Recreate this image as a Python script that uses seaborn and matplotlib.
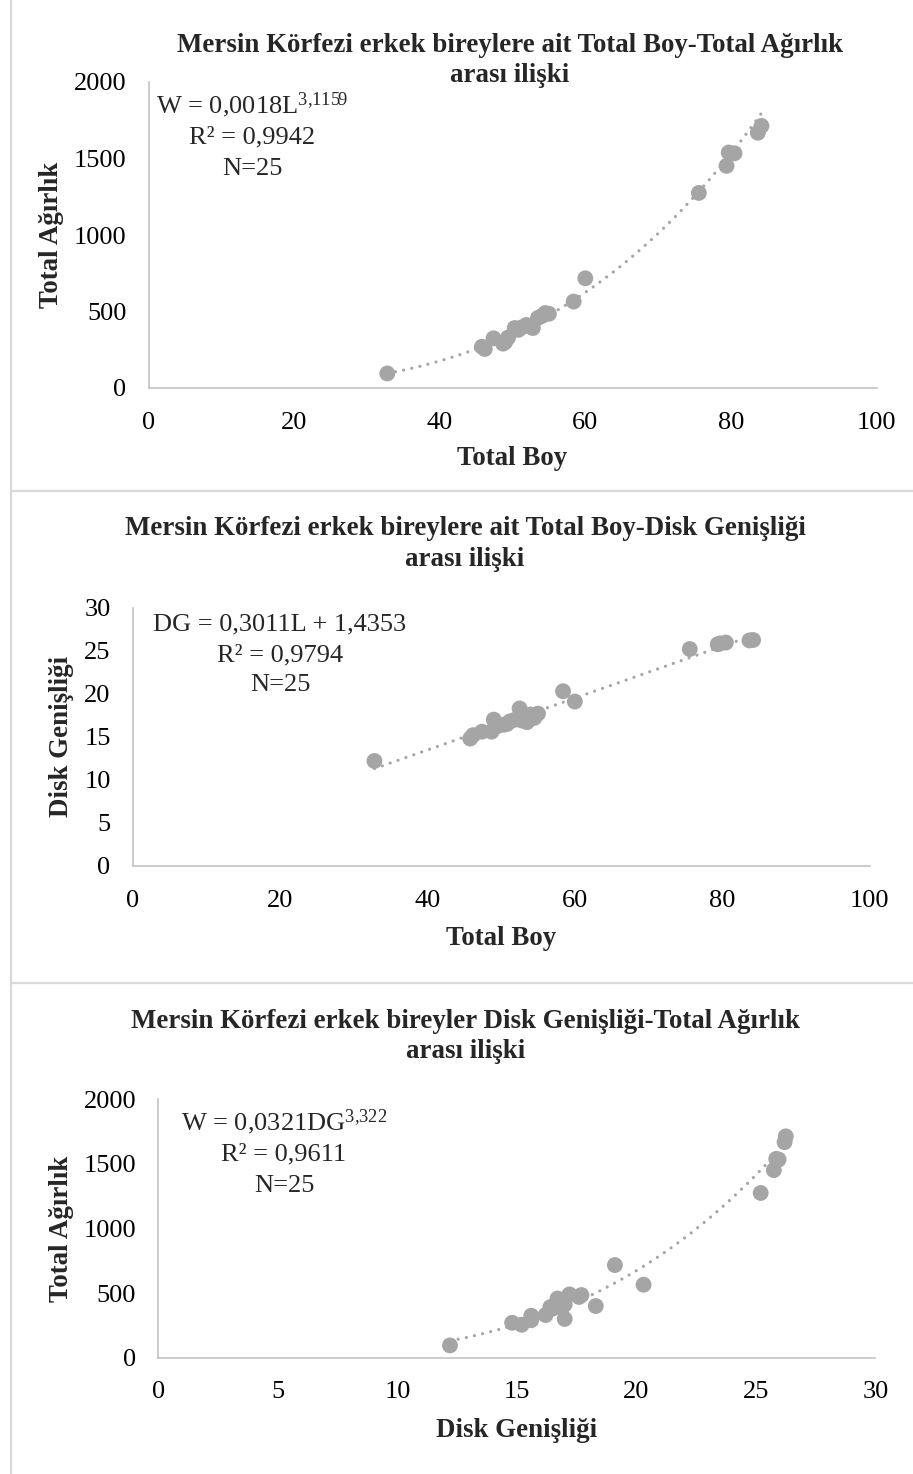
import numpy as np
import matplotlib
matplotlib.use('Agg')
import matplotlib.pyplot as plt
from matplotlib.lines import Line2D
import seaborn as sns

# Veri (25 erkek birey)
total_boy = [32.8, 45.8, 46.2, 47.4, 48.7, 49.0, 49.4, 50.3, 50.8, 51.2, 51.9, 52.5, 52.8,
             53.5, 54.0, 54.5, 55.0, 58.4, 60.0, 75.6, 79.4, 79.7, 80.5, 83.7, 84.2]
disk_genisligi = [12.2, 14.8, 15.2, 15.6, 15.6, 17.0, 16.2, 16.4, 16.5, 16.8, 17.0, 18.3, 16.9,
                  16.7, 17.6, 17.2, 17.7, 20.3, 19.1, 25.2, 25.75, 25.85, 25.95, 26.2, 26.25]
total_agirlik = [95, 270, 255, 325, 290, 300, 330, 392, 380, 395, 412, 400, 392,
                 458, 470, 490, 485, 565, 717, 1275, 1452, 1539, 1534, 1668, 1713]

basliklar = [
    ("Mersin Körfezi erkek bireylere ait Total Boy-Total Ağırlık", "arası ilişki"),
    ("Mersin Körfezi erkek bireylere ait Total Boy-Disk Genişliği", "arası ilişki"),
    ("Mersin Körfezi erkek bireyler Disk Genişliği-Total Ağırlık", "arası ilişki"),
]
denklemler = [
    (r"W = 0,0018L$^{3{,}1159}$", "R² = 0,9942", "N=25"),
    ("DG = 0,3011L + 1,4353", "R² = 0,9794", "N=25"),
    (r"W = 0,0321DG$^{3{,}322}$", "R² = 0,9611", "N=25"),
]

sns.set_theme(style='white')
plt.rcParams['font.family'] = ['Liberation Serif', 'DejaVu Serif']
plt.rcParams['mathtext.fontset'] = 'custom'
plt.rcParams['mathtext.rm'] = 'Liberation Serif'
plt.rcParams['mathtext.it'] = 'Liberation Serif:italic'
plt.rcParams['mathtext.bf'] = 'Liberation Serif:bold'

W, H = 913, 1474
fig = plt.figure(figsize=(W / 100, H / 100), dpi=100)
FS = 19
FS_BASLIK = 19.4
GRI = '#A5A5A5'


def fx(x):
    return x / W


def fy(y):
    return 1 - y / H


def eksen(l, r, t, b):
    return fig.add_axes([fx(l), fy(b), fx(r) - fx(l), fy(t) - fy(b)])


# eksen kutulari (piksel)
kutular = [(148.5, 876.5, 82, 388), (132.8, 869.5, 607.7, 866), (158.4, 875.4, 1099.3, 1357.7)]
veriler = [
    (total_boy, total_agirlik, (0, 100), (0, 2000), 20, 500, "Total Boy", "Total Ağırlık",
     lambda x: 0.0018 * x ** 3.1159),
    (total_boy, disk_genisligi, (0, 100), (0, 30), 20, 5, "Total Boy", "Disk Genişliği",
     lambda x: 0.3011 * x + 1.4353),
    (disk_genisligi, total_agirlik, (0, 30), (0, 2000), 5, 500, "Disk Genişliği", "Total Ağırlık",
     lambda x: 0.0321 * x ** 3.322),
]
baslik_konum = [(510, 51.7, 82), (465, 535, 566), (465.5, 1028, 1058)]
denklem_konum = [(252, (113, 143.5, 175)), (280, (630, 661.7, 690.7)), (284, (1130, 1160.7, 1191.7))]
xlabel_y = [465, 945, 1437]
ylabel_x = [51, 61, 61]

for i, (kutu, v) in enumerate(zip(kutular, veriler)):
    x, y, xlim, ylim, xstep, ystep, xlab, ylab, model = v
    ax = eksen(*kutu)
    # trend cizgisi (noktali)
    xs = np.linspace(min(x), max(x), 300)
    sns.lineplot(x=xs, y=model(xs), ax=ax, color=GRI, lw=2.3, linestyle=(0, (0.01, 2.6)),
                 dash_capstyle='round', zorder=2)
    sns.scatterplot(x=x, y=y, ax=ax, color=GRI, s=130, edgecolor='none', linewidth=0,
                    alpha=1, zorder=3)
    ax.set_xlim(*xlim)
    ax.set_ylim(*ylim)
    ax.set_xticks(np.arange(xlim[0], xlim[1] + 0.1, xstep))
    ax.set_yticks(np.arange(ylim[0], ylim[1] + 0.1, ystep))
    ax.tick_params(axis='x', length=0, pad=17, labelsize=FS, colors='black')
    ax.tick_params(axis='y', length=0, pad=16, labelsize=FS, colors='black')
    for s in ['top', 'right']:
        ax.spines[s].set_visible(False)
    for s in ['left', 'bottom']:
        ax.spines[s].set_color('#C4C4C4')
        ax.spines[s].set_linewidth(1.2)
    ax.set_xlabel('')
    ax.set_ylabel('')
    ax.patch.set_alpha(0)

    l, r, t, b = kutu
    fig.text(fx((l + r) / 2), fy(xlabel_y[i]), xlab, ha='center', va='baseline',
             fontsize=FS_BASLIK, fontweight='bold')
    fig.text(fx(ylabel_x[i]), fy((t + b) / 2), ylab, ha='center', va='center',
             rotation=90, fontsize=FS_BASLIK, fontweight='bold')

    cx, (y1, y2) = baslik_konum[i][0], baslik_konum[i][1:]
    fig.text(fx(cx), fy(y1), basliklar[i][0], ha='center', va='baseline',
             fontsize=FS_BASLIK, fontweight='bold')
    fig.text(fx(cx), fy(y2), basliklar[i][1], ha='center', va='baseline',
             fontsize=FS_BASLIK, fontweight='bold')

    dx, dys = denklem_konum[i]
    for satir, dy in zip(denklemler[i], dys):
        fig.text(fx(dx), fy(dy), satir, ha='center', va='baseline', fontsize=FS)

# grafik cerceveleri
cizgi = dict(transform=fig.transFigure, color='#D9D9D9', lw=1.6)
fig.add_artist(Line2D([fx(11), fx(11)], [0, 1], **cizgi))
for yy in [490.7, 982.7]:
    fig.add_artist(Line2D([fx(11), 1], [fy(yy), fy(yy)], **cizgi))

fig.savefig('out.png', dpi=100)
